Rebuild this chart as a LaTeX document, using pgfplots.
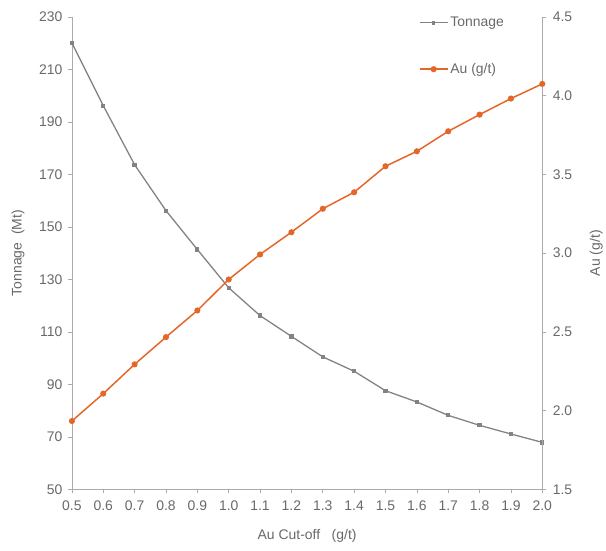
\documentclass[border=0pt]{standalone}
\usepackage{pgfplots}
\pgfplotsset{compat=1.18}
\usetikzlibrary{calc}
\usepackage{fontspec}
\setmainfont{Liberation Sans}
\definecolor{tgray}{RGB}{135,130,130}
\definecolor{aorange}{RGB}{228,102,42}
\definecolor{txt}{RGB}{105,105,105}
\definecolor{axc}{RGB}{175,170,170}

\pgfplotstableread{
x t
0.5 220.1
0.6 196.2
0.7 173.7
0.8 156.2
0.9 141.4
1.0 126.8
1.1 116.2
1.2 108.3
1.3 100.5
1.4 95.0
1.5 87.6
1.6 83.3
1.7 78.2
1.8 74.4
1.9 71.1
2.0 67.9
}\tonnage

\pgfplotstableread{
x a
0.5 1.934
0.6 2.108
0.7 2.294
0.8 2.467
0.9 2.636
1.0 2.833
1.1 2.992
1.2 3.133
1.3 3.282
1.4 3.387
1.5 3.552
1.6 3.647
1.7 3.774
1.8 3.880
1.9 3.982
2.0 4.075
}\augrade

\begin{document}
\begin{tikzpicture}
\pgfplotsset{
  common/.style={
    scale only axis, width=471bp, height=473bp,
    xmin=0.5, xmax=2.0,
    axis line style={axc, line width=0.7pt, -},
    tick style={axc, line width=0.6pt},
    major tick length=4bp,
    tick align=outside,
    ticklabel style={font=\fontsize{14}{16}\selectfont, text=txt},
    label style={font=\fontsize{14}{16}\selectfont, text=txt},
    /pgf/number format/assume math mode=true,
    clip=false,
  }
}
\begin{axis}[
  common,
  ymin=50, ymax=230,
  axis x line*=bottom, axis y line*=left,
  xtick={0.5,0.6,0.7,0.8,0.9,1.0,1.1,1.2,1.3,1.4,1.5,1.6,1.7,1.8,1.9,2.0},
  xticklabel style={/pgf/number format/fixed, /pgf/number format/fixed zerofill, /pgf/number format/precision=1, yshift=-4bp},
  ytick={50,70,90,110,130,150,170,190,210,230},
  yticklabel style={xshift=-2bp},
  xlabel={Au Cut-off\ \ \ (g/t)},
  ylabel={Tonnage\ \ (Mt)},
  xlabel style={at={(axis description cs:0.5,-0.0994)}, anchor=center},
  ylabel style={at={(axis description cs:-0.1146,0.5)}, anchor=center},
]
\addplot[tgray, line width=1.3pt, mark=square*, mark size=1.5pt, mark options={fill=tgray, draw=tgray}] table[x=x, y=t] {\tonnage};
\end{axis}
\begin{axis}[
  common,
  ymin=1.5, ymax=4.5,
  axis x line=none, axis y line*=right,
  ytick={1.5,2.0,2.5,3.0,3.5,4.0,4.5},
  yticklabel style={/pgf/number format/fixed, /pgf/number format/fixed zerofill, /pgf/number format/precision=1, xshift=3bp},
  ylabel={Au (g/t)},
  ylabel style={at={(axis description cs:1.1146,0.5)}, anchor=center},
  legend style={at={(0.731,1.008)}, anchor=north west, draw=none, fill=none,
    font=\fontsize{14}{16}\selectfont, text=txt, row sep=31bp,
    /tikz/every even column/.append style={column sep=1bp}},
  legend cell align=left,
  legend image code/.code={\draw[mark repeat=2,mark phase=2] plot coordinates {(0bp,0bp)(14bp,0bp)(28bp,0bp)};},
]
\addlegendimage{tgray, line width=1.0pt, mark=square*, mark size=1.1pt, mark options={fill=tgray}}
\addlegendentry{Tonnage}
\addplot[aorange, line width=1.5pt, mark=*, mark size=2.3pt, mark options={fill=aorange, draw=aorange}] table[x=x, y=a] {\augrade};
\addlegendentry{Au (g/t)}
\useasboundingbox ($(rel axis cs:0,0)+(-72bp,-61bp)$) rectangle ($(rel axis cs:1,1)+(63bp,17bp)$);
\end{axis}
\end{tikzpicture}
\end{document}
